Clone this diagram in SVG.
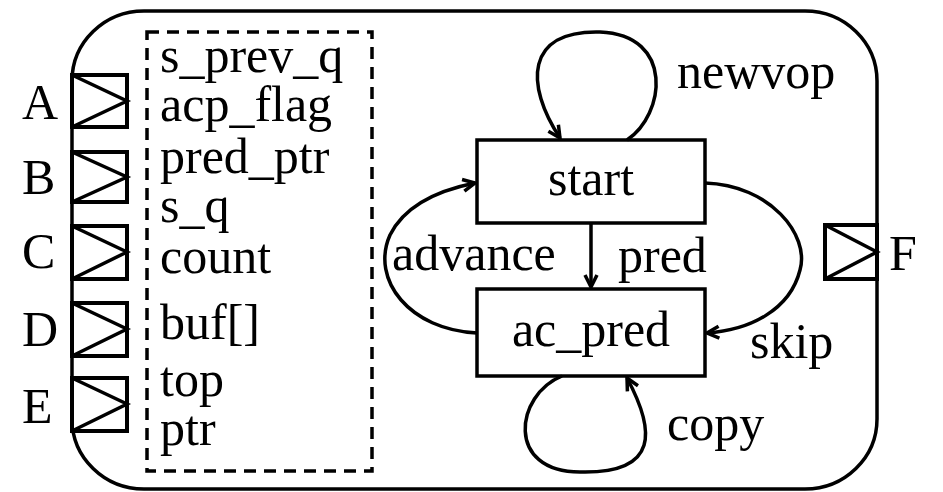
<svg xmlns="http://www.w3.org/2000/svg" width="943" height="492" viewBox="0 0 943 492">
<defs>
<style>
text{font-family:"Liberation Serif","Times New Roman",serif;font-size:50px;fill:#000}
.ln{fill:none;stroke:#000;stroke-width:3.5}
.port{fill:#fff;stroke:#000;stroke-width:4}
.tri{fill:none;stroke:#000;stroke-width:3.5}
</style>
<marker id="arr" markerUnits="userSpaceOnUse" markerWidth="16" markerHeight="16" refX="13" refY="7" orient="auto" viewBox="0 0 16 14">
<path d="M1,1 L13,7 L1,13" fill="none" stroke="#000" stroke-width="3.5"/>
</marker>
</defs>
<rect width="943" height="492" fill="#fff"/>
<g id="module">
<rect x="72" y="11" width="805" height="478" rx="72" ry="70" class="ln"/>
</g>
<g id="vars">
<rect x="147" y="32" width="225" height="439" fill="none" stroke="#000" stroke-width="3.5" stroke-dasharray="12,8"/>
<text x="160" y="72">s_prev_q</text>
<text x="160" y="121">acp_flag</text>
<text x="160" y="173">pred_ptr</text>
<text x="160" y="222">s_q</text>
<text x="160" y="273">count</text>
<text x="160" y="339">buf[]</text>
<text x="160" y="396">top</text>
<text x="160" y="445">ptr</text>
</g>
<g id="portA"><rect x="72" y="75" width="55" height="52" class="port"/><path d="M72,75 L127,101 L72,127" class="tri"/><text x="22" y="119">A</text></g>
<g id="portB"><rect x="72" y="152" width="55" height="50" class="port"/><path d="M72,152 L127,177 L72,202" class="tri"/><text x="22" y="194">B</text></g>
<g id="portC"><rect x="72" y="226" width="55" height="53" class="port"/><path d="M72,226 L127,252 L72,279" class="tri"/><text x="22" y="268">C</text></g>
<g id="portD"><rect x="72" y="303" width="55" height="53" class="port"/><path d="M72,303 L127,329 L72,356" class="tri"/><text x="22" y="346">D</text></g>
<g id="portE"><rect x="72" y="378" width="55" height="53" class="port"/><path d="M72,378 L127,404 L72,431" class="tri"/><text x="22" y="423">E</text></g>
<g id="portF"><rect x="825" y="225" width="52" height="54" class="port"/><path d="M825,225 L877,252 L825,279" class="tri"/><text x="889" y="270">F</text></g>
<g id="start"><rect x="477" y="140" width="228" height="83" class="ln"/><text x="591" y="195" text-anchor="middle">start</text></g>
<g id="ac_pred"><rect x="477" y="289" width="228" height="87" class="ln"/><text x="591" y="346" text-anchor="middle">ac_pred</text></g>
<g id="connectors">
<path d="M627,140 C665,115 675,35 600,32 C525,30 525,85 560,138" class="ln" marker-end="url(#arr)"/>
<text x="677" y="88">newvop</text>
<path d="M591,223 L591,287" class="ln" marker-end="url(#arr)"/>
<text x="618" y="272">pred</text>
<path d="M477,333 C410,330 370,280 390,235 C405,205 440,190 475,183" class="ln" marker-end="url(#arr)"/>
<text x="392" y="270">advance</text>
<path d="M705,183 C770,185 810,235 800,270 C790,310 750,330 707,333" class="ln" marker-end="url(#arr)"/>
<text x="750" y="358">skip</text>
<path d="M562,376 C515,395 505,472 580,472 C660,474 655,430 627,378" class="ln" marker-end="url(#arr)"/>
<text x="667" y="440">copy</text>
</g>
</svg>
